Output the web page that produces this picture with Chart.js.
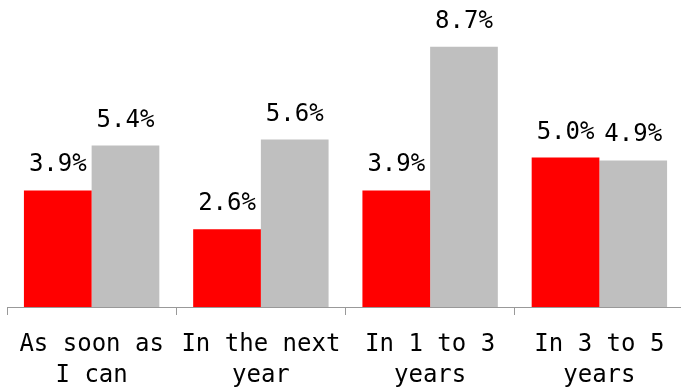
<!DOCTYPE html>
<html>
<head>
<meta charset="utf-8">
<script src="https://cdn.jsdelivr.net/npm/chart.js@4"></script>
<style>
html,body{margin:0;padding:0;background:#fff;overflow:hidden;}
#wrap{position:relative;width:684px;height:387px;}
</style>
</head>
<body>
<div id="wrap"><canvas id="c"></canvas></div>
<script>
const categories = [["As soon as", "I can"], ["In the next", "year"], ["In 1 to 3", "years"], ["In 3 to 5", "years"]];
const seriesA = [3.9, 2.6, 3.9, 5.0];
const seriesB = [5.4, 5.6, 8.7, 4.9];

const labelPlugin = {
  id: 'valueLabels',
  afterDatasetsDraw(chart) {
    const ctx = chart.ctx;
    ctx.save();
    ctx.font = '24px "DejaVu Sans Mono"';
    ctx.fillStyle = '#000';
    ctx.textAlign = 'center';
    ctx.textBaseline = 'alphabetic';
    chart.data.datasets.forEach((ds, i) => {
      const meta = chart.getDatasetMeta(i);
      meta.data.forEach((bar, j) => {
        ctx.fillText(ds.data[j].toFixed(1) + '%', bar.x, bar.y - 19);
      });
    });
    ctx.restore();
  }
};

new Chart(document.getElementById('c'), {
  type: 'bar',
  data: {
    labels: categories,
    datasets: [
      { data: seriesA, backgroundColor: '#FF0000', categoryPercentage: 0.8, barPercentage: 1.0 },
      { data: seriesB, backgroundColor: '#BFBFBF', categoryPercentage: 0.8, barPercentage: 1.0 }
    ]
  },
  options: {
    responsive: true,
    maintainAspectRatio: false,
    animation: false,
    layout: { padding: { left: 7, right: 0, top: 8, bottom: 0 } },
    plugins: { legend: { display: false }, tooltip: { enabled: false } },
    scales: {
      x: {
        afterFit: (s) => { s.height = 80; },
        grid: { offset: true, drawOnChartArea: false, drawTicks: true, tickLength: 8, color: '#999999' },
        border: { display: true, color: '#999999', width: 1 },
        ticks: { color: '#000', font: { family: 'DejaVu Sans Mono', size: 24, lineHeight: 1.3 }, padding: 14, maxRotation: 0, autoSkip: false }
      },
      y: { display: false, min: 0, max: 10 }
    }
  },
  plugins: [labelPlugin]
});
</script>
</body>
</html>
